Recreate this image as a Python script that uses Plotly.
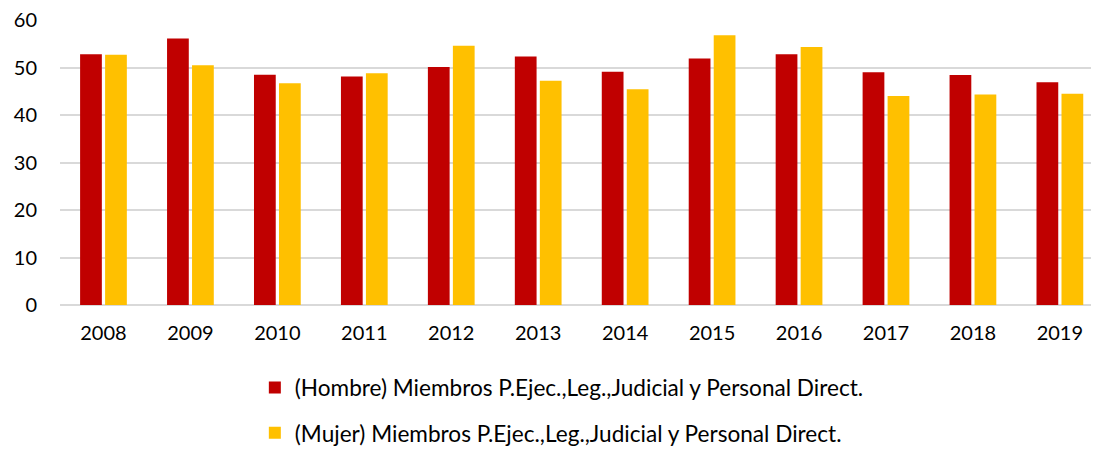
import plotly.graph_objects as go

years = ["2008", "2009", "2010", "2011", "2012", "2013", "2014", "2015", "2016", "2017", "2018", "2019"]
hombre = [52.8, 56.1, 48.5, 48.1, 50.1, 52.3, 49.1, 51.9, 52.8, 49.0, 48.4, 46.9]
mujer = [52.7, 50.5, 46.7, 48.8, 54.6, 47.2, 45.4, 56.8, 54.3, 44.0, 44.3, 44.5]
name_h = "(Hombre) Miembros P.Ejec.,Leg.,Judicial y Personal Direct."
name_m = "(Mujer) Miembros P.Ejec.,Leg.,Judicial y Personal Direct."

FONT = "Lato"

fig = go.Figure()
fig.add_trace(go.Bar(x=years, y=hombre, name=name_h, marker_color="#C00000",
                     marker_line_width=0, legendgroup="h"))
fig.add_trace(go.Bar(x=years, y=mujer, name=name_m, marker_color="#FFC000",
                     marker_line_width=0, legendgroup="m"))

fig.update_layout(
    width=1091, height=443,
    margin=dict(l=52, r=0, t=12, b=145.5, autoexpand=False),
    plot_bgcolor="white", paper_bgcolor="white",
    barmode="group", bargap=0.425, bargroupgap=0.13,
    font=dict(family=FONT, size=20, color="#000000"),
    showlegend=True,
    legend=dict(orientation="v", x=0.483, xanchor="center", y=-0.215, yanchor="top",
                font=dict(family=FONT, size=22.6, color="#000000"),
                tracegroupgap=13, bgcolor="rgba(0,0,0,0)"),
    xaxis=dict(type="category", range=[-0.5, 11.45], showgrid=False,
               showline=False, ticks="", ticklabelstandoff=14, tickangle=0,
               automargin=False, tickfont=dict(family=FONT, size=20)),
    yaxis=dict(range=[0, 60], dtick=10, showgrid=True, gridcolor="#D9D9D9",
               gridwidth=1.5, zeroline=True, zerolinecolor="#D9D9D9",
               zerolinewidth=1.5, showline=False, ticks="", automargin=False,
               ticklabeloverflow="allow",
               ticklabelstandoff=22, tickfont=dict(family=FONT, size=20)),
)

fig.write_html("out.html")
